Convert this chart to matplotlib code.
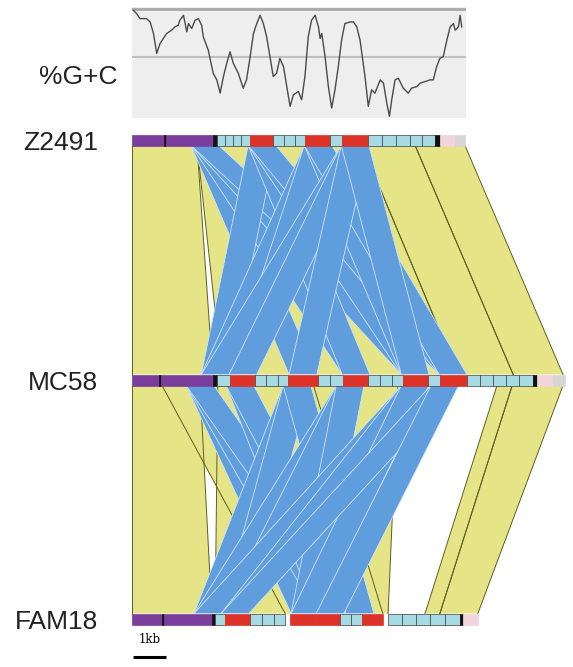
import matplotlib
matplotlib.use("Agg")
import matplotlib.pyplot as plt
from matplotlib.patches import Polygon, Rectangle

plt.rcParams['font.family'] = ['Liberation Sans', 'DejaVu Sans']

# strains and feature maps (positions in kb)
strains = ['Z2491', 'MC58', 'FAM18']
z2491_edges = [0, 0.97, 1.03, 2.45, 2.58, 2.82, 3.06, 3.30, 3.58, 4.27, 4.61, 4.94, 5.24, 6.00, 6.36,
               7.15, 7.58, 8.00, 8.42, 8.79, 9.18, 9.33, 9.79, 10.09]
z2491_types = ['P', 'K', 'P', 'K', 'B', 'B', 'B', 'B', 'R', 'B', 'B', 'B', 'R', 'B', 'R',
               'B', 'B', 'B', 'B', 'B', 'K', 'N', 'G']
mc58_edges = [0, 0.82, 0.88, 2.45, 2.58, 2.97, 3.73, 4.06, 4.42, 4.73, 5.64, 6.00, 6.39, 7.15, 7.52,
              7.88, 8.21, 8.97, 9.33, 10.15, 10.55, 10.94, 11.33, 11.73, 12.15, 12.27, 12.76, 13.12]
mc58_types = ['P', 'K', 'P', 'K', 'B', 'R', 'B', 'B', 'B', 'R', 'B', 'B', 'R', 'B', 'B',
              'B', 'R', 'B', 'R', 'B', 'B', 'B', 'B', 'B', 'K', 'N', 'G']
fam18_edges = [0, 0.91, 0.97, 2.42, 2.52, 2.82, 3.58, 3.94, 4.30, 4.64, 4.79, 5.55, 6.30, 6.64, 6.97,
               7.61, 7.76, 8.18, 8.61, 9.03, 9.48, 9.94, 10.03, 10.48]
fam18_types = ['P', 'K', 'P', 'K', 'B', 'R', 'B', 'B', 'B', '', 'R', 'R', 'B', 'B', 'R',
               '', 'B', 'B', 'B', 'B', 'B', 'K', 'N']

# syntenic blocks: (upper start, upper end, lower start, lower end)
blocks_1 = [(0, 1.97, 0, 2.45), (1.97, 6.97, 2.73, 9.88),
            (6.97, 8.58, 9.88, 11.55), (8.58, 10.09, 11.55, 13.06)]
blocks_2 = [(0, 2.06, 0, 2.42), (2.60, 8.06, 2.52, 7.76), (0.91, 5.50, 4.64, 7.60),
            (11.06, 11.52, 8.88, 9.33), (11.52, 13.06, 9.33, 10.48)]

# repeat matches (centres in kb, upper / lower)
rep_up_1 = [2.21, 3.94, 5.64, 6.76]
rep_lo_1 = [2.52, 3.36, 5.18, 6.79, 8.58, 9.73]
links_1 = [(0, 2), (0, 3), (0, 4), (0, 5), (1, 0), (1, 3), (1, 4), (1, 5),
           (2, 0), (2, 1), (2, 4), (2, 5), (3, 0), (3, 1), (3, 2), (3, 4)]
rep_up_2 = [2.06, 3.27, 5.0, 6.61, 8.58, 9.48]
rep_lo_2 = [2.30, 3.12, 5.24, 6.00, 6.91]
links_2 = [(0, 2), (0, 3), (0, 4), (1, 3), (1, 4), (2, 0), (2, 1), (2, 4),
           (3, 0), (3, 1), (3, 2), (4, 0), (4, 1), (4, 2), (5, 1), (5, 3)]

# %G+C profile
gc_pos = [0.04, 0.14, 0.24, 0.44, 0.55, 0.65, 0.75, 0.85, 0.95, 1.05, 1.20, 1.30, 1.40, 1.45, 1.56,
          1.61, 1.66, 1.71, 1.81, 1.91, 2.01, 2.11, 2.16, 2.31, 2.46, 2.57, 2.67, 2.77, 2.87, 2.97,
          3.07, 3.22, 3.37, 3.47, 3.58, 3.68, 3.78, 3.88, 3.98, 4.08, 4.18, 4.28, 4.38, 4.48, 4.59,
          4.69, 4.79, 4.89, 5.04, 5.14, 5.24, 5.34, 5.44, 5.55, 5.65, 5.70, 5.75, 5.85, 5.95, 6.05,
          6.15, 6.25, 6.35, 6.45, 6.61, 6.71, 6.81, 6.91, 7.06, 7.16, 7.26, 7.36, 7.52, 7.62, 7.72,
          7.80, 7.87, 7.97, 8.07, 8.22, 8.37, 8.47, 8.63, 8.73, 8.88, 9.03, 9.13, 9.23, 9.33, 9.43,
          9.54, 9.64, 9.74, 9.79, 9.89, 9.94, 9.99]
gc_val = [62.5, 61.5, 60.0, 60.0, 59.0, 55.5, 49.5, 52.5, 54.0, 55.5, 56.5, 57.5, 58.0, 59.5, 61.0,
          58.5, 56.0, 58.5, 57.0, 59.5, 60.0, 58.0, 54.5, 50.5, 43.5, 41.5, 37.5, 42.5, 46.5, 50.0,
          46.5, 43.5, 39.0, 41.5, 48.5, 55.5, 58.5, 61.0, 58.5, 54.5, 48.5, 42.5, 43.5, 48.0, 45.5,
          39.5, 33.5, 37.0, 38.0, 35.5, 42.5, 54.5, 59.5, 61.0, 57.5, 54.0, 55.5, 48.5, 39.5, 33.0,
          38.5, 45.5, 53.5, 58.5, 59.0, 59.0, 57.5, 53.5, 42.5, 33.5, 38.5, 37.5, 41.5, 40.5, 34.5,
          30.5, 35.5, 41.5, 42.0, 39.0, 37.5, 39.0, 39.5, 40.5, 41.0, 41.5, 41.5, 45.5, 48.0, 48.5,
          53.5, 57.5, 58.5, 56.5, 57.5, 61.0, 57.5]

colors = {'P': '#7a3d9c', 'K': '#111111', 'B': '#a6dbe6', 'R': '#dc3228',
          'N': '#f2d4dc', 'G': '#d6d6d6'}
yellow = '#e5e587'
blue = '#5f9ddc'

W, H = 573, 667
fig = plt.figure(figsize=(W / 100, H / 100), dpi=100)
ax = fig.add_axes([0, 0, 1, 1])
ax.set_xlim(-132 / 33, (W - 132) / 33)
ax.set_ylim(H, 0)
ax.axis('off')

row_y = [140, 380, 619]
half = 5.5


def draw_links(blocks, reps_up, reps_lo, links, y0, y1):
    for a0, a1, b0, b1 in blocks:
        ax.add_patch(Polygon([(a0, y0), (a1, y0), (b1, y1), (b0, y1)], closed=True,
                             facecolor=yellow, edgecolor='none', zorder=1))
    for a0, a1, b0, b1 in blocks:
        ax.plot([a0, b0], [y0, y1], color='#5e5e22', lw=0.7, zorder=2)
        ax.plot([a1, b1], [y0, y1], color='#5e5e22', lw=0.7, zorder=2)
    w = 0.42
    for i, j in links:
        u, l = reps_up[i], reps_lo[j]
        ax.add_patch(Polygon([(u - w, y0), (u + w, y0), (l + w, y1), (l - w, y1)], closed=True,
                             facecolor=blue, edgecolor='#cfe4f4', lw=0.6, zorder=3))


draw_links(blocks_1, rep_up_1, rep_lo_1, links_1, row_y[0] + half, row_y[1] - half)
draw_links(blocks_2, rep_up_2, rep_lo_2, links_2, row_y[1] + half, row_y[2] - half)

maps = [(z2491_edges, z2491_types), (mc58_edges, mc58_types), (fam18_edges, fam18_types)]
for (edges, types), y, name in zip(maps, row_y, strains):
    for s, e, t in zip(edges[:-1], edges[1:], types):
        if not t:
            continue
        ax.add_patch(Rectangle((s, y - half), e - s, 2 * half, facecolor=colors[t],
                               edgecolor='#404040' if t == 'B' else colors[t], lw=0.5, zorder=5))
    ax.text(-34 / 33, y + 3, name, ha='right', va='center', fontsize=19, color='#222222')

# scale bar
ax.plot([0.03, 1.03], [657, 657], color='black', lw=2.2, solid_capstyle='butt')
ax.text(0.53, 646, '1kb', ha='center', va='bottom', fontsize=8.5, family='DejaVu Serif')

# %G+C panel
gx = fig.add_axes([132 / W, (H - 118) / H, (466 - 132) / W, (118 - 7) / H])
gx.set_facecolor('#eeeeee')
gx.set_xlim(0, 10.12)
gx.set_ylim(30, 63.5)
gx.axhline(63.0, color='#a8a8a8', lw=2)
gx.axhline(48.3, color='#c0c0c0', lw=1.5)
gx.plot(gc_pos, gc_val, color='#4a4a4a', lw=1.0)
gx.set_xticks([])
gx.set_yticks([])
for sp in gx.spines.values():
    sp.set_visible(False)
ax.text(-14 / 33, 77, '%G+C', ha='right', va='center', fontsize=19, color='#222222')

fig.savefig('out.png', dpi=100)
